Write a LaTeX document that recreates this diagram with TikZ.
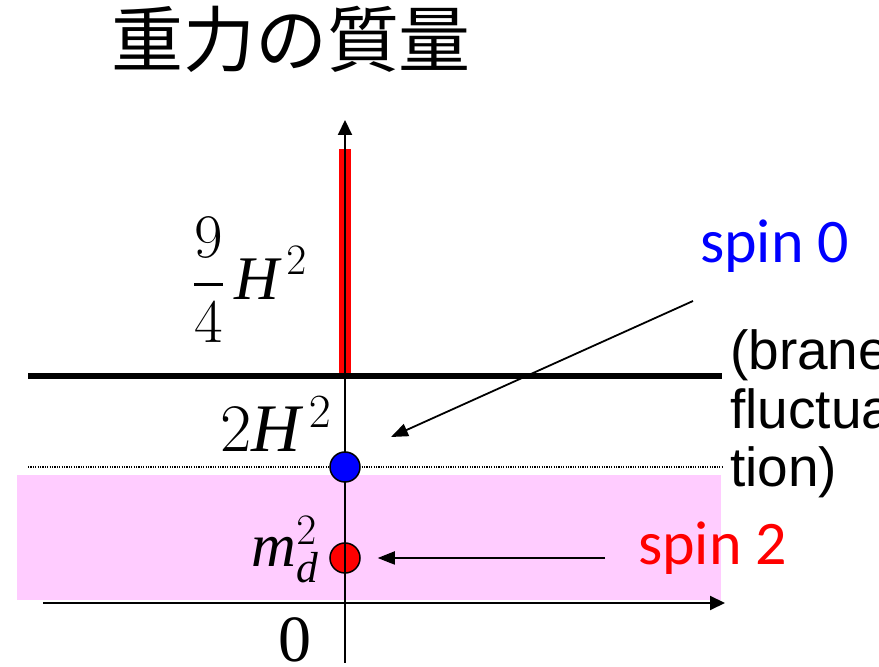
\RequirePackage{fix-cm}
\documentclass[tikz,border=0pt]{standalone}
\usepackage{fontspec,xcolor,tikz}
\usetikzlibrary{arrows.meta}
\setmainfont{Liberation Serif}
\newfontfamily\jpfont{Noto Sans CJK JP}
\newfontfamily\calfont{Carlito}
\newfontfamily\arialfont{Liberation Sans}
\definecolor{rosa}{HTML}{FFCCFF}
\definecolor{rot}{HTML}{FF0000}
\definecolor{blau}{HTML}{0000FF}
\newcommand{\titel}{\fontsize{72}{80}\selectfont\jpfont}
\newcommand{\spinschrift}{\fontsize{62}{70}\selectfont\calfont}
\newcommand{\braneschrift}{\fontsize{55}{58.5}\selectfont\arialfont}
\newcommand{\formel}[1]{\fontsize{#1}{#1}\selectfont}
\tikzset{achse/.style={line width=2pt,-{Triangle[length=15pt,width=14pt]}},
  zeiger/.style={line width=1.8pt,-{Triangle[length=17pt,width=13pt]}},
  punkt/.style={circle,draw,line width=1.5pt,minimum size=30pt,inner sep=0},
  beschriftung/.style={inner sep=0,anchor=base}}

\begin{document}
\begin{tikzpicture}[x=1pt,y=1pt]
\useasboundingbox (0,0) rectangle (879,667);
% Bereich und Linien
\fill[rosa] (17,67) rectangle (721,192);
\draw[line width=1.2pt,dash pattern=on 1.2pt off 1.2pt] (28,200) -- (722,200);
\node[punkt,fill=rot] (dot2) at (345,109) {};
\draw[rot,line width=12pt] (345,290) -- (345,518);
\draw[achse] (345,4) -- (345,547);
\draw[achse] (43,64) -- (725,64);
\draw[line width=6pt] (28,290.5) -- (722,290.5);
\node[punkt,fill=blau] (dot0) at (345,200) {};
% Beschriftungen
\node[beschriftung,font=\titel] (titel) at (291,600) {重力の質量};
\node[inner sep=0,font=\formel{62}] (neunviertel) at (250,387) {$\displaystyle{9\above3pt 4}\,\mathit{H}^{\,2}$};
\node[beschriftung,font=\formel{68}] (zweiH) at (276,215) {$2\mathit{H}^{\,2}$};
\node[beschriftung,font=\formel{62}] (md) at (285,100) {$\mathit{m}_{\mathit{d}}^{2}$};
\node[beschriftung,font=\formel{66}] (null) at (295,5) {0};
\node[beschriftung,anchor=base west,text=blau,font=\spinschrift] (spin0) at (700,404) {spin 0};
\node[beschriftung,anchor=base west,text=rot,font=\spinschrift] (spin2) at (638,102) {spin 2};
\node[beschriftung,anchor=base west,align=left,font=\braneschrift] (brane) at (730,180) {(brane\\fluctua\\tion)};
% Zeiger
\coordinate (s0fuss) at (693,366);
\coordinate (s0spitze) at (391,230);
\coordinate (s2fuss) at (605,109);
\draw[zeiger] (s0fuss) -- (s0spitze);
\draw[zeiger,shorten >=17pt] (s2fuss) -- (dot2);
\end{tikzpicture}
\end{document}
